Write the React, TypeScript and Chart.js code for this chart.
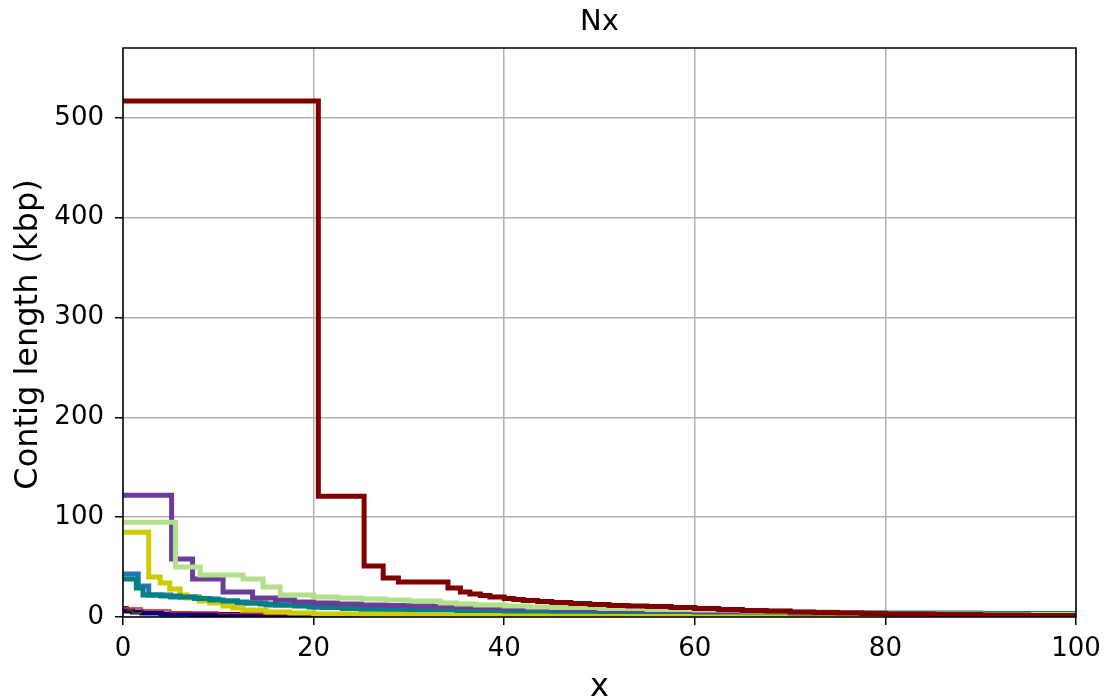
import React, { useEffect, useRef } from "react";
import { Chart, registerables } from "chart.js";

Chart.register(...registerables);

const TITLE = "Nx";
const X_LABEL = "x";
const Y_LABEL = "Contig length (kbp)";

const X_TICKS = [0, 20, 40, 60, 80, 100];
const Y_TICKS = [0, 100, 200, 300, 400, 500];
const Y_MAX = 570;

// Each series: x = start of a contig segment (%), y = contig length (kbp)
const darkRedX = [0, 20.5, 25.3, 27.3, 28.9, 34.1, 35.4, 36.4, 37.5, 38.5, 40, 41, 42, 43.5, 45, 47, 49, 51, 53, 55, 57.5, 60, 62.5, 65, 67.5, 70, 72.5, 75, 77.5, 80, 85, 90, 95, 100];
const darkRedY = [517, 121, 51, 39, 35, 29, 25, 23, 21.5, 20, 18.5, 17.5, 16.5, 15.5, 14.5, 13.5, 12.5, 11.5, 11, 10.5, 9.5, 8.5, 7.5, 6.5, 6, 5, 4.5, 4, 3.5, 3, 2.5, 2, 1.5, 1.5];

const lightGreenX = [0, 5.5, 8.1, 12.6, 14.7, 16.5, 20, 22.5, 25, 27.5, 30, 33.3, 35, 37, 40, 42.5, 45, 50, 55, 60, 65, 70, 75, 80, 90, 100];
const lightGreenY = [95, 50, 42, 38, 30, 22, 20, 19, 18, 17, 16, 14, 13, 12, 11, 10, 9.5, 8.5, 7.5, 7, 6, 5, 4, 3, 2.5, 2.5];

const purpleX = [0, 5.1, 7.3, 10.5, 13.6, 16, 18, 20, 22.5, 25, 27.5, 30, 32.5, 35, 37.5, 40, 45, 50, 55, 60, 70, 80, 90, 100];
const purpleY = [122, 58, 38, 25, 19, 17, 15, 14, 13, 12, 11.5, 11, 10.5, 10, 9.5, 9, 8, 7, 6.5, 5.5, 4, 3, 2, 2];

const tealX = [0, 1.4, 2.1, 4, 6, 7.5, 9.1, 10.5, 12, 13, 14.4, 16, 18, 19.5, 21, 23, 25, 27.5, 30, 35, 40, 45, 50, 60, 70, 80, 90, 100];
const tealY = [38, 29, 22, 21, 20, 18.5, 17, 16, 15, 14, 13, 12, 11, 10, 9.5, 8.5, 8, 7.7, 7.5, 6.5, 6, 5.7, 5.5, 5, 4.5, 4, 3.5, 3];

const yellowX = [0, 2.7, 3.9, 4.9, 6, 6.7, 8, 9.1, 10.5, 11.5, 12.6, 15, 17.5, 20, 25, 30, 40, 50, 100];
const yellowY = [85, 40, 34, 28, 22, 19, 16, 14, 11, 9, 7, 5, 4, 3, 2.5, 2, 1.7, 1.5, 1.5];

const blueX = [0, 1.6, 2.7, 5, 8, 10, 12, 15, 20, 25, 30, 40, 50, 60, 80, 100];
const blueY = [43, 31, 22, 20, 18, 16, 14, 12, 10, 8, 7, 6, 5, 4.5, 3.5, 3];

const redX = [0, 2, 5, 10, 15, 20, 40, 100];
const redY = [9, 7, 5, 3.5, 2.5, 2, 1, 1];

const oliveX = [0, 0.5, 1, 2];
const oliveY = [10, 7, 4, 4];

const navyX = [0, 1, 2, 4, 7, 12, 20, 40, 100];
const navyY = [6, 5, 4, 3, 2.5, 2, 1.5, 1, 1];

const FONT = "'DejaVu Sans', sans-serif";

const toPoints = (xs: number[], ys: number[]) => xs.map((x, i) => ({ x, y: ys[i] }));

const makeSet = (xs: number[], ys: number[], color: string, width: number) => ({
  data: toPoints(xs, ys),
  borderColor: color,
  backgroundColor: color,
  borderWidth: width,
  pointRadius: 0,
  stepped: "before" as const,
  fill: false,
});

const framePlugin = {
  id: "frame",
  afterDatasetsDraw(chart: any) {
    const { ctx, chartArea: a } = chart;
    ctx.save();
    ctx.strokeStyle = "#000";
    ctx.lineWidth = 1.5;
    ctx.strokeRect(a.left, a.top, a.right - a.left, a.bottom - a.top);
    ctx.restore();
  },
  afterDraw(chart: any) {
    const { ctx, chartArea: a } = chart;
    const cx = (a.left + a.right) / 2;
    const cy = (a.top + a.bottom) / 2;
    ctx.save();
    ctx.fillStyle = "#000";
    ctx.textAlign = "center";
    ctx.font = `29px ${FONT}`;
    ctx.textBaseline = "alphabetic";
    ctx.fillText(TITLE, cx, 30);
    ctx.font = `32px ${FONT}`;
    ctx.fillText(X_LABEL, cx, 696);
    ctx.translate(29, cy + 2);
    ctx.rotate(-Math.PI / 2);
    ctx.textBaseline = "middle";
    ctx.fillText(Y_LABEL, 0, 0);
    ctx.restore();
  },
};

export default function App() {
  const ref = useRef<HTMLCanvasElement | null>(null);

  useEffect(() => {
    if (!ref.current) return;
    const chart = new Chart(ref.current, {
      type: "line",
      data: {
        datasets: [
          makeSet(darkRedX, darkRedY, "#800000", 5),
          makeSet(lightGreenX, lightGreenY, "#b2df8a", 5),
          makeSet(purpleX, purpleY, "#6a3d9a", 5),
          makeSet(tealX, tealY, "#008080", 5),
          makeSet(yellowX, yellowY, "#cccc00", 5),
          makeSet(blueX, blueY, "#1f78b4", 5),
          makeSet(redX, redY, "#e31a1c", 1.5),
          makeSet(oliveX, oliveY, "#404000", 2),
          makeSet(navyX, navyY, "#000080", 5),
        ],
      },
      plugins: [framePlugin],
      options: {
        responsive: false,
        animation: false,
        devicePixelRatio: 1,
        layout: { padding: { top: 48, right: 29, left: 0, bottom: 0 } },
        plugins: {
          legend: { display: false },
          title: { display: false },
          tooltip: { enabled: false },
        },
        scales: {
          x: {
            type: "linear",
            min: 0,
            max: 100,
            afterBuildTicks: (s: any) => {
              s.ticks = X_TICKS.map((v) => ({ value: v }));
            },
            afterFit: (s: any) => {
              s.height = 83;
              s.paddingLeft = 0;
              s.paddingRight = 0;
            },
            ticks: {
              font: { family: FONT, size: 26 },
              color: "#000",
              padding: 9,
              maxRotation: 0,
            },
            grid: {
              color: "#b0b0b0",
              lineWidth: 1.5,
              tickColor: "#000",
              tickLength: 8,
              tickWidth: 1.5,
            },
            border: { display: false },
          },
          y: {
            type: "linear",
            min: 0,
            max: Y_MAX,
            afterBuildTicks: (s: any) => {
              s.ticks = Y_TICKS.map((v) => ({ value: v }));
            },
            afterFit: (s: any) => {
              s.width = 123;
              s.paddingTop = 0;
              s.paddingBottom = 0;
            },
            ticks: {
              font: { family: FONT, size: 26 },
              color: "#000",
              padding: 11,
            },
            grid: {
              color: "#b0b0b0",
              lineWidth: 1.5,
              tickColor: "#000",
              tickLength: 8,
              tickWidth: 1.5,
            },
            border: { display: false },
          },
        },
      },
    } as any);
    return () => chart.destroy();
  }, []);

  return (
    <div style={{ position: "fixed", left: 0, top: 0, width: 1105, height: 700, background: "#fff" }}>
      <canvas ref={ref} width={1105} height={700} style={{ width: 1105, height: 700 }} />
    </div>
  );
}
